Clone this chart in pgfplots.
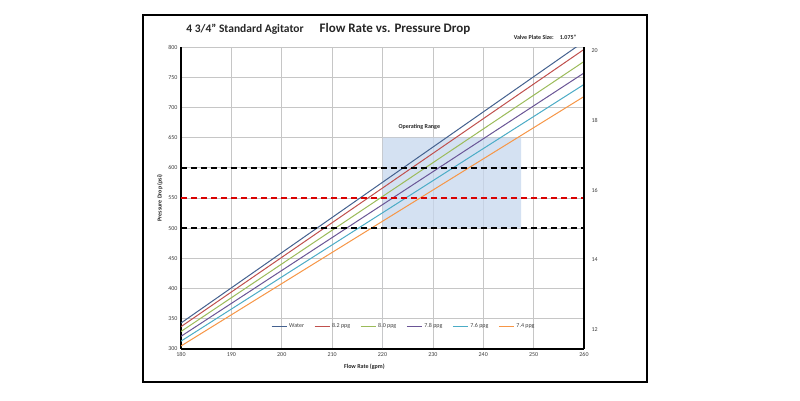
\documentclass[border=0pt]{standalone}
\usepackage{fontspec}
\setmainfont{Carlito}
\usepackage{pgfplots}
\pgfplotsset{compat=1.18}
\definecolor{cWater}{HTML}{44618F}
\definecolor{cRed}{HTML}{C0504D}
\definecolor{cGreen}{HTML}{9BBB59}
\definecolor{cPurple}{HTML}{6A5596}
\definecolor{cAqua}{HTML}{4BACC6}
\definecolor{cOrange}{HTML}{F79646}
\definecolor{cRange}{HTML}{C6D7EE}
\definecolor{txt}{HTML}{404040}
\begin{document}
\begin{tikzpicture}
\path[use as bounding box, fill=white] (0pt,0pt) rectangle (800pt,400pt);
\draw[black, line width=1.3pt] (143pt,18pt) rectangle (647pt,385pt);
\node[font=\bfseries\fontsize{11.5}{13}\selectfont, text=black!85] at (245pt,371pt) {4 3/4" Standard Agitator};
\node[font=\bfseries\fontsize{13}{15}\selectfont, text=black!85] at (395pt,371pt) {Flow Rate vs. Pressure Drop};
\node[font=\bfseries\fontsize{6}{7}\selectfont, text=black!85] at (545pt,362.5pt) {Valve Plate Size:\quad 1.075"};
\begin{axis}[
  at={(181pt,51pt)}, anchor=south west,
  scale only axis, width=403pt, height=302pt,
  xmin=180, xmax=260, ymin=300, ymax=800,
  xtick={180,190,...,260}, ytick={300,350,...,800},
  grid=major, major grid style={gray!45, line width=0.7pt},
  axis line style={black, line width=1.1pt},
  axis y line*=left, axis x line*=bottom,
  major tick length=0pt,
  tick label style={font=\fontsize{6}{7}\selectfont, text=txt},
  /pgf/number format/assume math mode=true,
  xlabel={Flow Rate (gpm)}, ylabel={Pressure Drop (psi)},
  label style={font=\bfseries\fontsize{6}{7}\selectfont, text=black!85},
  xlabel style={at={(ticklabel cs:0.455)}, anchor=near ticklabel, yshift=-1pt},
  ylabel style={yshift=-1pt},
  clip=true,
  legend style={at={(0.553,0.074)}, anchor=center, draw=none, fill=none,
    font=\fontsize{6}{7}\selectfont, text=txt, legend columns=6,
    /tikz/every even column/.append style={column sep=8pt}},
  legend image code/.code={\draw[#1] (0pt,0pt) -- (15pt,0pt);},
]
\addplot[fill=cRange, fill opacity=0.75, draw=none, forget plot] coordinates {(220,500) (247.5,500) (247.5,650) (220,650)} \closedcycle;
\node[font=\bfseries\fontsize{6}{7}\selectfont, text=black!85] at (axis cs:227.3,668) {Operating Range};
\addplot[cWater, line width=1pt] coordinates {(180,343) (260,809)};
\addlegendentry{Water}
\addplot[cRed, line width=1pt] coordinates {(180,337) (260,796)};
\addlegendentry{8.2 ppg}
\addplot[cGreen, line width=1pt] coordinates {(180,329) (260,776)};
\addlegendentry{8.0 ppg}
\addplot[cPurple, line width=1pt] coordinates {(180,321) (260,757)};
\addlegendentry{7.8 ppg}
\addplot[cAqua, line width=1pt] coordinates {(180,313) (260,738)};
\addlegendentry{7.6 ppg}
\addplot[cOrange, line width=1pt] coordinates {(180,305) (260,718)};
\addlegendentry{7.4 ppg}
\addplot[black, line width=1.6pt, dash pattern=on 6pt off 4pt, forget plot] coordinates {(180,600) (260,600)};
\addplot[black, line width=1.6pt, dash pattern=on 6pt off 4pt, forget plot] coordinates {(180,500) (260,500)};
\addplot[red!85!black, line width=1.6pt, dash pattern=on 6pt off 4pt, forget plot] coordinates {(180,550) (260,550)};
\end{axis}
\begin{axis}[
  at={(181pt,51pt)}, anchor=south west,
  scale only axis, width=403pt, height=302pt,
  xmin=180, xmax=260, ymin=11.43, ymax=20.11,
  axis x line=none, axis y line*=right,
  ytick={12,14,...,20},
  axis line style={black, line width=1.1pt},
  major tick length=0pt,
  tick label style={font=\fontsize{6}{7}\selectfont, text=txt},
  /pgf/number format/assume math mode=true,
  yticklabel style={xshift=4pt},
]
\end{axis}
\end{tikzpicture}
\end{document}
